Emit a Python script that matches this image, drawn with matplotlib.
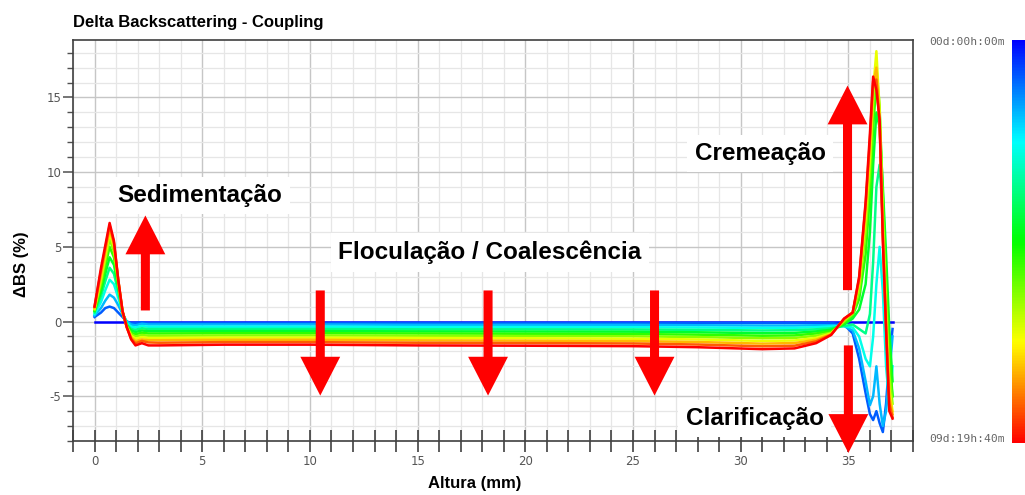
import numpy as np
import matplotlib
matplotlib.use("Agg")
import matplotlib.pyplot as plt
from matplotlib.colors import LinearSegmentedColormap, Normalize, hsv_to_rgb
from matplotlib.cm import ScalarMappable
from matplotlib.ticker import MultipleLocator

plt.rcParams["axes.unicode_minus"] = False

# ---------------- data ----------------
heights = [0, 0.3, 0.5, 0.7, 0.9, 1.1, 1.3, 1.5, 1.7, 1.9, 2.2, 2.5,
           3, 6, 10, 15, 20, 25, 28,
           31, 32.5, 33.5, 34.2, 34.8, 35.2, 35.5, 35.8, 36.0, 36.15, 36.3,
           36.45, 36.6, 36.75, 36.9, 37.05]

# profiles from first scan (t=0, blue) to last scan (red)
scan00 = [0]*12 + [0]*7 + [0]*16
scan01 = [0.3, 0.6, 0.9, 1.0, 0.9, 0.6, 0.3, 0.0, -0.1, -0.1, -0.05, -0.1,
          -0.1, -0.1, -0.1, -0.1, -0.1, -0.1, -0.1,
          -0.1, -0.1, -0.1, -0.1, -0.2, -0.8, -2.5, -4.8, -6.2, -6.6, -6.0, -6.8, -7.4, -5.5, -2.5, -0.5]
scan02 = [0.4, 0.9, 1.4, 1.8, 1.6, 1.1, 0.5, 0.0, -0.2, -0.25, -0.15, -0.2,
          -0.2, -0.2, -0.2, -0.22, -0.22, -0.22, -0.25,
          -0.27, -0.27, -0.25, -0.25, -0.3, -0.6, -1.8, -4.0, -5.6, -5.0, -3.0, -5.5, -7.0, -6.0, -3.5, -1.0]
scan03 = [0.5, 1.3, 2.1, 2.8, 2.5, 1.6, 0.6, -0.1, -0.35, -0.4, -0.3, -0.35,
          -0.35, -0.35, -0.35, -0.37, -0.37, -0.38, -0.4,
          -0.43, -0.42, -0.38, -0.33, -0.3, -0.4, -1.0, -2.5, -3.0, -1.0, 2.5, 5.0, 2.0, -3.0, -5.5, -3.0]
scan04 = [0.6, 1.7, 2.7, 3.6, 3.2, 2.0, 0.6, -0.2, -0.5, -0.55, -0.45, -0.5,
          -0.5, -0.5, -0.5, -0.52, -0.52, -0.53, -0.56,
          -0.6, -0.58, -0.52, -0.45, -0.3, -0.2, -0.5, -0.8, 0.5, 4.0, 9.0, 10.5, 7.0, 2.0, -3.0, -5.0]
scan05 = [0.7, 2.0, 3.2, 4.3, 3.8, 2.3, 0.6, -0.25, -0.6, -0.7, -0.6, -0.65,
          -0.65, -0.64, -0.64, -0.66, -0.67, -0.68, -0.72,
          -0.78, -0.76, -0.66, -0.55, -0.2, 0.2, 0.8, 2.5, 6.0, 10.5, 14.0, 13.0, 9.0, 4.5, -0.5, -4.0]
scan06 = [0.75, 2.3, 3.7, 5.0, 4.3, 2.5, 0.6, -0.3, -0.75, -0.85, -0.75, -0.8,
          -0.8, -0.78, -0.78, -0.8, -0.82, -0.84, -0.88,
          -0.95, -0.93, -0.8, -0.65, -0.1, 0.4, 1.5, 4.5, 8.5, 13.0, 16.0, 14.0, 8.5, 3.0, -2.0, -5.0]
scan07 = [0.8, 2.6, 4.1, 5.5, 4.7, 2.6, 0.6, -0.35, -0.85, -1.0, -0.9, -0.95,
          -0.95, -0.93, -0.93, -0.95, -0.97, -0.99, -1.04,
          -1.12, -1.1, -0.95, -0.75, 0.0, 0.5, 2.0, 6.0, 10.0, 14.5, 17.0, 14.5, 7.5, 1.5, -3.5, -5.5]
scan08 = [0.85, 2.9, 4.4, 5.9, 5.0, 2.7, 0.65, -0.35, -0.95, -1.15, -1.05, -1.1,
          -1.1, -1.08, -1.08, -1.1, -1.12, -1.15, -1.2,
          -1.3, -1.27, -1.1, -0.8, 0.1, 0.6, 2.5, 7.0, 11.0, 15.5, 18.1, 14.0, 6.5, 0.5, -4.5, -6.0]
scan09 = [0.9, 3.1, 4.7, 6.2, 5.2, 2.75, 0.65, -0.4, -1.05, -1.3, -1.2, -1.25,
          -1.25, -1.22, -1.22, -1.26, -1.28, -1.31, -1.37,
          -1.48, -1.44, -1.22, -0.85, 0.15, 0.6, 2.7, 7.5, 11.8, 15.8, 17.0, 13.5, 6.0, 0.0, -5.0, -6.2]
scan10 = [1.0, 3.4, 4.9, 6.45, 5.3, 2.8, 0.7, -0.4, -1.15, -1.45, -1.3, -1.4,
          -1.42, -1.38, -1.38, -1.42, -1.44, -1.47, -1.54,
          -1.66, -1.62, -1.33, -0.88, 0.18, 0.6, 2.9, 7.8, 12.2, 16.1, 16.2, 13.2, 5.7, -0.5, -5.5, -6.4]
scan11 = [1.0, 3.6, 5.1, 6.6, 5.4, 2.8, 0.7, -0.4, -1.2, -1.6, -1.45, -1.6,
          -1.6, -1.55, -1.55, -1.6, -1.62, -1.65, -1.72,
          -1.85, -1.8, -1.45, -0.9, 0.2, 0.6, 3.0, 8.0, 12.6, 16.4, 15.5, 13.5, 5.4, -0.5, -6.0, -6.5]
scans = [scan00, scan01, scan02, scan03, scan04, scan05,
         scan06, scan07, scan08, scan09, scan10, scan11]

x_ticks = [0, 5, 10, 15, 20, 25, 30, 35]
y_ticks = [-5, 0, 5, 10, 15]
time_labels = ["00d:00h:00m", "09d:19h:40m"]

# ---------------- figure ----------------
W, H = 1025, 495
fig = plt.figure(figsize=(W/100, H/100), dpi=100)
fig.patch.set_facecolor("white")
ax = fig.add_axes([73/W, 1-441/H, (913-73)/W, (441-40)/H])

# colormap: red (end) -> blue (start)
cmap = LinearSegmentedColormap.from_list(
    "time", [hsv_to_rgb((h, 1, 1)) for h in np.linspace(0, 2/3, 64)])

n = len(scans)
for k, prof in enumerate(scans):
    frac = k / (n - 1)
    ax.plot(heights, prof, color=cmap(1 - frac), lw=1.8, zorder=2,
            solid_joinstyle="round")

ax.set_xlim(-1, 38)
ax.set_ylim(-8, 18.85)
ax.set_xticks(x_ticks)
ax.set_yticks(y_ticks)
ax.xaxis.set_minor_locator(MultipleLocator(1))
ax.yaxis.set_minor_locator(MultipleLocator(1))
ax.grid(which="minor", color="#e6e6e6", lw=0.9, zorder=0)
ax.grid(which="major", color="#c6c6c6", lw=1.0, zorder=0)
ax.set_axisbelow(True)

for s in ax.spines.values():
    s.set_color("#404040")
    s.set_linewidth(1.2)

tick_font = ["Liberation Sans Narrow", "DejaVu Sans"]
ax.tick_params(axis="x", which="both", direction="inout", length=16,
               width=1.1, color="#303030", pad=2)
ax.tick_params(axis="y", which="major", direction="out", length=7,
               width=1.1, color="#505050", pad=1.5)
ax.tick_params(axis="y", which="minor", direction="out", length=4.5,
               width=1.0, color="#505050")
for lab in ax.get_xticklabels() + ax.get_yticklabels():
    lab.set_family(tick_font)
    lab.set_fontsize(8.5)
    lab.set_color("#555555")

ax.set_xlabel("Altura (mm)", fontsize=12, fontweight="bold",
              family="Liberation Sans")
ax.xaxis.set_label_coords((474.5-73)/840, -0.088)
ax.set_ylabel("ΔBS (%)", fontsize=12, fontweight="bold",
              family="Liberation Sans")
ax.yaxis.set_label_coords(-0.052, 0.44)

fig.text(73/W, 1-22/H, "Delta Backscattering - Coupling", fontsize=12,
         fontweight="bold", family="Liberation Sans", ha="left", va="center")

# arrows
arrow_kw = dict(length_includes_head=True, width=0.42, head_width=1.85,
                head_length=2.6, fc="#ff0000", ec="none", zorder=5)
ax.arrow(2.36, 0.74, 0, 7.1-0.74, **arrow_kw)
for xa in [10.48, 18.27, 26.0]:
    ax.arrow(xa, 2.08, 0, -4.96-2.08, **arrow_kw)
ax.arrow(34.96, 2.1, 0, 15.8-2.1, **arrow_kw)
ax.arrow(35.0, -1.6, 0, -8.8+1.6, clip_on=False, **arrow_kw)

# annotation texts
tkw = dict(fontsize=17.5, fontweight="bold", family="Liberation Sans",
           ha="left", va="center", zorder=4,
           bbox=dict(facecolor="white", edgecolor="none",
                     boxstyle="square,pad=0.3"))
ax.text(1.07, 8.44, "Sedimentação", **tkw)
ax.text(27.86, 11.25, "Cremeação", **tkw)
ax.text(11.31, 4.62, "Floculação / Coalescência", **tkw)
ax.text(27.45, -6.5, "Clarificação", **tkw)

# colorbar
cax = fig.add_axes([1012/W, 1-443/H, 13/W, (443-40)/H])
cb = fig.colorbar(ScalarMappable(norm=Normalize(0, 1), cmap=cmap), cax=cax)
cb.outline.set_visible(False)
cax.set_yticks([])
fig.text(1005/W, 1-42/H, time_labels[0], fontsize=8.2, color="#666666",
         family="DejaVu Sans Mono", ha="right", va="center")
fig.text(1005/W, 1-439/H, time_labels[1], fontsize=8.2, color="#666666",
         family="DejaVu Sans Mono", ha="right", va="center")

fig.savefig("out.png", dpi=100)
